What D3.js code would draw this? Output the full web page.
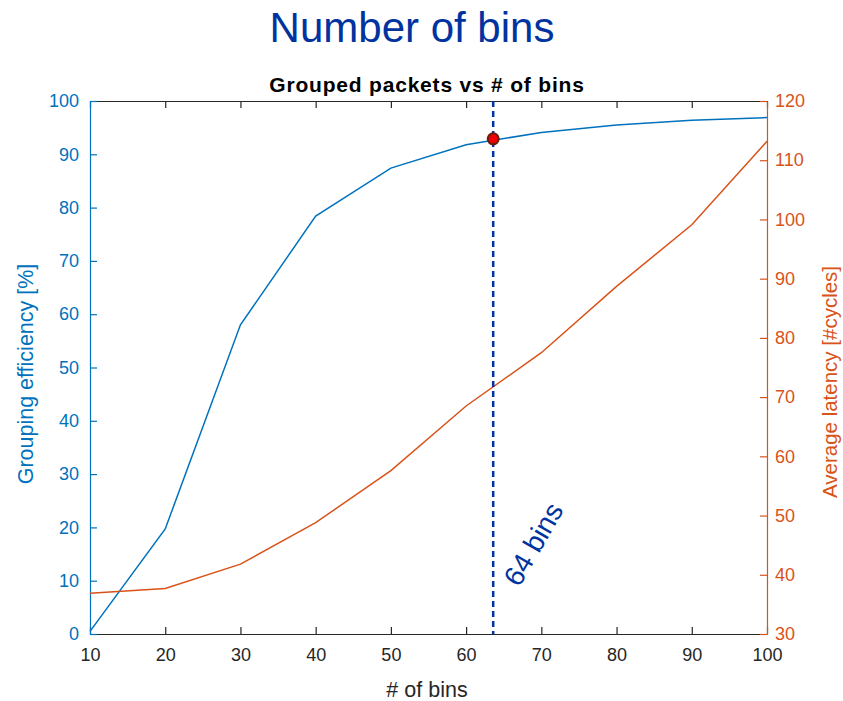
<!DOCTYPE html>
<html>
<head>
<meta charset="utf-8">
<script src="https://cdn.jsdelivr.net/npm/d3@7"></script>
<style>
body { margin: 0; background: #fff; }
text { font-family: Arial, "Liberation Sans", Helvetica, sans-serif; }
</style>
</head>
<body>
<svg id="mainSvg" width="843" height="701"></svg>
<script>
// data
var bins = [10, 20, 30, 40, 50, 60, 70, 80, 90, 100];
var efficiency = [0.5, 19.7, 58, 78.4, 87.4, 91.8, 94.1, 95.5, 96.4, 96.9];
var latency = [36.9, 37.7, 41.8, 48.8, 57.6, 68.5, 77.5, 88.7, 99.1, 113.2];
var xTicks = [10, 20, 30, 40, 50, 60, 70, 80, 90, 100];
var leftTicks = [0, 10, 20, 30, 40, 50, 60, 70, 80, 90, 100];
var rightTicks = [30, 40, 50, 60, 70, 80, 90, 100, 110, 120];
var chosenBins = 63.6, chosenEff = 92.9;

var blue = "#0072BD", orange = "#D95319", dark = "#262626", navy = "#0033A0";
var m = {left: 90, right: 767, top: 101, bottom: 634};

var svg = d3.select("#mainSvg");
var x = d3.scaleLinear().domain([10, 100]).range([m.left, m.right]);
var yL = d3.scaleLinear().domain([0, 100]).range([m.bottom, m.top]);
var yR = d3.scaleLinear().domain([30, 120]).range([m.bottom, m.top]);

// titles
svg.append("text").attr("x", 412).attr("y", 42).attr("text-anchor", "middle")
	.attr("font-size", 42).attr("fill", navy).text("Number of bins");
svg.append("text").attr("x", 427).attr("y", 92).attr("text-anchor", "middle")
	.attr("font-size", 21).attr("font-weight", "bold").attr("letter-spacing", 0.8)
	.attr("fill", "#000").text("Grouped packets vs # of bins");

function styleAxis(g, col, size)
{
	g.select(".domain").attr("stroke", col).attr("stroke-width", 1.2);
	g.selectAll(".tick line").attr("stroke", col).attr("stroke-width", 1.2);
	g.selectAll(".tick text").attr("fill", col).attr("font-size", size)
		.attr("font-family", "Arial, 'Liberation Sans', sans-serif");
}

// bottom & top
var gb = svg.append("g").attr("transform", "translate(0," + m.bottom + ")")
	.call(d3.axisBottom(x).tickValues(xTicks).tickSizeInner(-7).tickSizeOuter(0).tickPadding(14));
styleAxis(gb, dark, 18);
var gt = svg.append("g").attr("transform", "translate(0," + m.top + ")")
	.call(d3.axisTop(x).tickValues(xTicks).tickSizeInner(-7).tickSizeOuter(0).tickFormat(""));
styleAxis(gt, dark, 18);

// left
var gl = svg.append("g").attr("transform", "translate(" + m.left + ",0)")
	.call(d3.axisLeft(yL).tickValues(leftTicks).tickSizeInner(-7).tickSizeOuter(0).tickPadding(11));
styleAxis(gl, blue, 18);
// right
var gr = svg.append("g").attr("transform", "translate(" + m.right + ",0)")
	.call(d3.axisRight(yR).tickValues(rightTicks).tickSizeInner(-7).tickSizeOuter(0).tickPadding(8));
styleAxis(gr, orange, 18);

// axis labels
svg.append("text").attr("x", 427).attr("y", 697).attr("text-anchor", "middle")
	.attr("font-size", 21.5).attr("fill", dark).text("# of bins");
svg.append("text").attr("transform", "translate(33,374) rotate(-90)").attr("text-anchor", "middle")
	.attr("font-size", 21.5).attr("fill", blue).text("Grouping efficiency [%]");
svg.append("text").attr("transform", "translate(837,382) rotate(-90)").attr("text-anchor", "middle")
	.attr("font-size", 20.5).attr("fill", orange).text("Average latency [#cycles]");

// lines
var effLine = d3.line().x(function(d, i) { return x(bins[i]); }).y(function(d) { return yL(d); });
var latLine = d3.line().x(function(d, i) { return x(bins[i]); }).y(function(d) { return yR(d); });
svg.append("path").datum(efficiency).attr("d", effLine).attr("fill", "none")
	.attr("stroke", blue).attr("stroke-width", 1.5);
svg.append("path").datum(latency).attr("d", latLine).attr("fill", "none")
	.attr("stroke", orange).attr("stroke-width", 1.5);

// chosen point
svg.append("line").attr("x1", x(chosenBins)).attr("x2", x(chosenBins))
	.attr("y1", m.top).attr("y2", m.bottom)
	.attr("stroke", navy).attr("stroke-width", 2.5).attr("stroke-dasharray", "6,4");
svg.append("circle").attr("cx", x(chosenBins)).attr("cy", yL(chosenEff)).attr("r", 5.5)
	.attr("fill", "#ee0000").attr("stroke", "#6b1c0c").attr("stroke-width", 2);
svg.append("text").attr("transform", "translate(" + (x(chosenBins) + 26) + ",588) rotate(-60)")
	.attr("font-size", 28).attr("fill", navy).text("64 bins");
</script>
</body>
</html>
